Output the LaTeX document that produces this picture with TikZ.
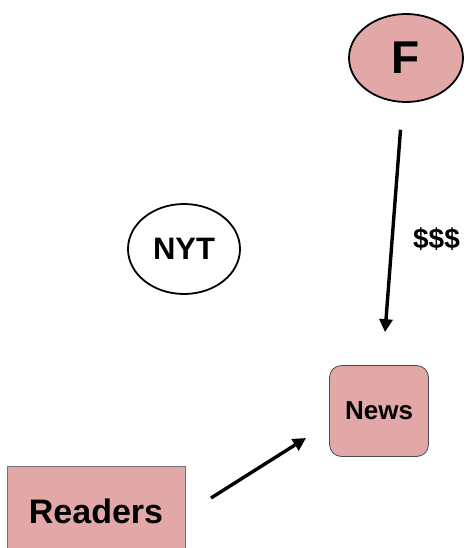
\documentclass[tikz,border=0pt]{standalone}
\usepackage{fontspec}
\setmainfont{Liberation Sans}
\usepackage{tikz}
\usetikzlibrary{arrows.meta,shapes.geometric}

\definecolor{pinkbox}{RGB}{226,168,168}

\begin{document}
\begin{tikzpicture}[x=1pt,y=-1pt,
    party/.style={ellipse, draw=black, line width=1.8pt, inner sep=0pt},
    box/.style={draw=black!70, fill=pinkbox, line width=0.8pt, inner sep=0pt},
    flow/.style={line width=3.4pt, -{Triangle[width=13pt,length=13pt]}}]
    \useasboundingbox (0,0) rectangle (466,548);

    \node[party, fill=pinkbox, minimum width=114pt, minimum height=88pt,
      font=\bfseries\fontsize{46}{46}\selectfont] (F) at (406,58) {F};
    \node[party, minimum width=112pt, minimum height=90pt,
      font=\bfseries\fontsize{31}{31}\selectfont] (nyt) at (184,249) {NYT};
    \node[box, rounded corners=12pt, minimum width=99pt, minimum height=91pt,
      font=\bfseries\fontsize{26}{26}\selectfont] (news) at (379,411) {News};
    \node[box, draw=black!55, minimum width=178pt, minimum height=90pt,
      font=\bfseries\fontsize{34}{34}\selectfont] (readers) at (96,511) {Readers};

    \coordinate (rout) at (211,498);
    \coordinate (nin) at (306,438);

    \draw[flow, shorten <=27pt, shorten >=33pt] (F) -- (news)
      node[pos=0.52, right=16pt, font=\bfseries\fontsize{28}{28}\selectfont] {\$\$\$};
    \draw[flow] (rout) -- (nin);

  \end{tikzpicture}
\end{document}
